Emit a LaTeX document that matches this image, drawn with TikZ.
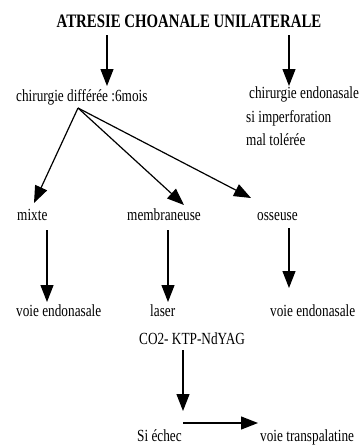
\documentclass[tikz,border=0pt]{standalone}
\usepackage{fontspec}
\setmainfont{Liberation Serif}[FakeStretch=0.78]
\usetikzlibrary{arrows.meta}
\begin{document}
\begin{tikzpicture}[x=1pt,y=-1pt,
  txt/.style={inner sep=0pt, anchor=base west, font=\fontsize{17}{20}\selectfont},
  arr/.style={line width=1.2pt, -{Triangle[length=17pt,width=13pt]}}]
\useasboundingbox (0,0) rectangle (360,445);
\node[inner sep=0pt, anchor=base, font=\bfseries\fontsize{19}{22}\selectfont] (title) at (189,27) {ATRESIE CHOANALE UNILATERALE};
\node[txt] (diff) at (16,101) {chirurgie différée :6mois};
\node[txt] (rt1) at (249,98) {chirurgie endonasale};
\node[txt] (rt2) at (246,122) {si imperforation};
\node[txt] (rt3) at (246,145) {mal tolérée};
\node[txt] (mixte) at (17,220) {mixte};
\node[txt] (memb) at (127,220) {membraneuse};
\node[txt] (oss) at (257,220) {osseuse};
\node[txt] (ve1) at (16,316) {voie endonasale};
\node[txt] (laser) at (150,316) {laser};
\node[txt] (co2) at (139,344) {CO2- KTP-NdYAG};
\node[txt] (ve2) at (270,316) {voie endonasale};
\node[txt] (echec) at (137,441) {Si échec};
\node[txt] (trans) at (260,441) {voie transpalatine};
% connector end points
\coordinate (t1) at (107,35);  \coordinate (d1) at (107,86);
\coordinate (t2) at (289,35);  \coordinate (d2) at (289,86);
\coordinate (o) at (78,108);
\coordinate (mx) at (34,203);
\coordinate (mb) at (184,205);
\coordinate (os) at (251,198);
\coordinate (mxs) at (47,230); \coordinate (mxe) at (47,302);
\coordinate (mbs) at (168,230); \coordinate (mbe) at (168,302);
\coordinate (oss1) at (289,228); \coordinate (ose) at (289,288);
\coordinate (cs) at (183,350); \coordinate (ce) at (183,411);
\coordinate (hs) at (183,423); \coordinate (he) at (258,423);
\draw[arr] (t1) -- (d1);
\draw[arr] (t2) -- (d2);
\draw[arr] (o) -- (mx);
\draw[arr] (o) -- (mb);
\draw[arr] (o) -- (os);
\draw[arr] (mxs) -- (mxe);
\draw[arr] (mbs) -- (mbe);
\draw[arr] (oss1) -- (ose);
\draw[arr] (cs) -- (ce);
\draw[arr] (hs) -- (he);
\end{tikzpicture}
\end{document}
